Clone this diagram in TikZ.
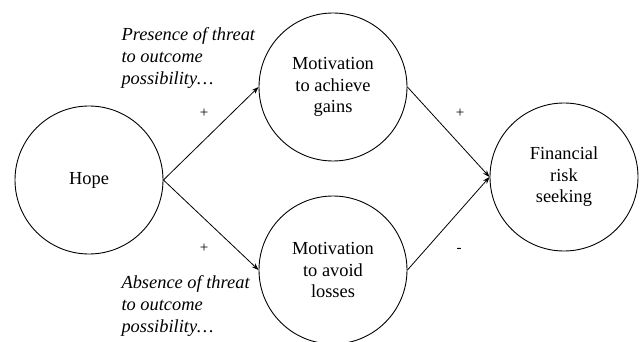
\documentclass[tikz,border=0pt]{standalone}
\usepackage{fontspec}
\setmainfont{Liberation Serif}
\usepackage{tikz}
\usetikzlibrary{shapes,arrows.meta}
\tikzset{
  concept/.style={circle, draw, line width=0.9pt, minimum size=148pt, inner sep=0pt,
    align=center, font=\fontsize{18.4}{21.5}\selectfont},
  link/.style={-{Stealth[length=7pt,width=5pt]}, line width=0.8pt},
  sign/.style={font=\fontsize{15}{15}\selectfont},
  condition/.style={anchor=base west, align=left, font=\fontsize{18.4}{22}\selectfont\itshape}
}
\newcommand{\conceptnode}[3] {\node at (#1) (#2) [concept] {#3};}
\newcommand{\conceptlink}[2] {\draw [link] (#1) -- (#2);}
\newcommand{\signnode}[2] {\node at (#1) [sign] {#2};}

\begin{document}
\begin{tikzpicture}[x=1pt, y=-1pt]
\useasboundingbox (0,0) rectangle (640,342);

\conceptnode {89,180} {hope} {Hope};
\conceptnode {333,87} {gains} {Motivation\\to achieve\\gains};
\conceptnode {333,270} {losses} {Motivation\\to avoid\\losses};
\conceptnode {564,177} {risk} {Financial\\risk\\seeking};

\conceptlink{hope.east}{gains.west};
\conceptlink{hope.east}{losses.west};
\conceptlink{gains.east}{risk.west};
\conceptlink{losses.east}{risk.west};

\signnode {204,113} {+};
\signnode {204,248} {+};
\signnode {460,113} {+};
\signnode {459,250} {-};

% the base anchor sits on the last line
\node (presence) at (118,85) [condition] {Presence of threat\\to outcome\\possibility\dots};
\node (absence) at (118,332) [condition] {Absence of threat\\to outcome\\possibility\dots};

\end{tikzpicture}
\end{document}
